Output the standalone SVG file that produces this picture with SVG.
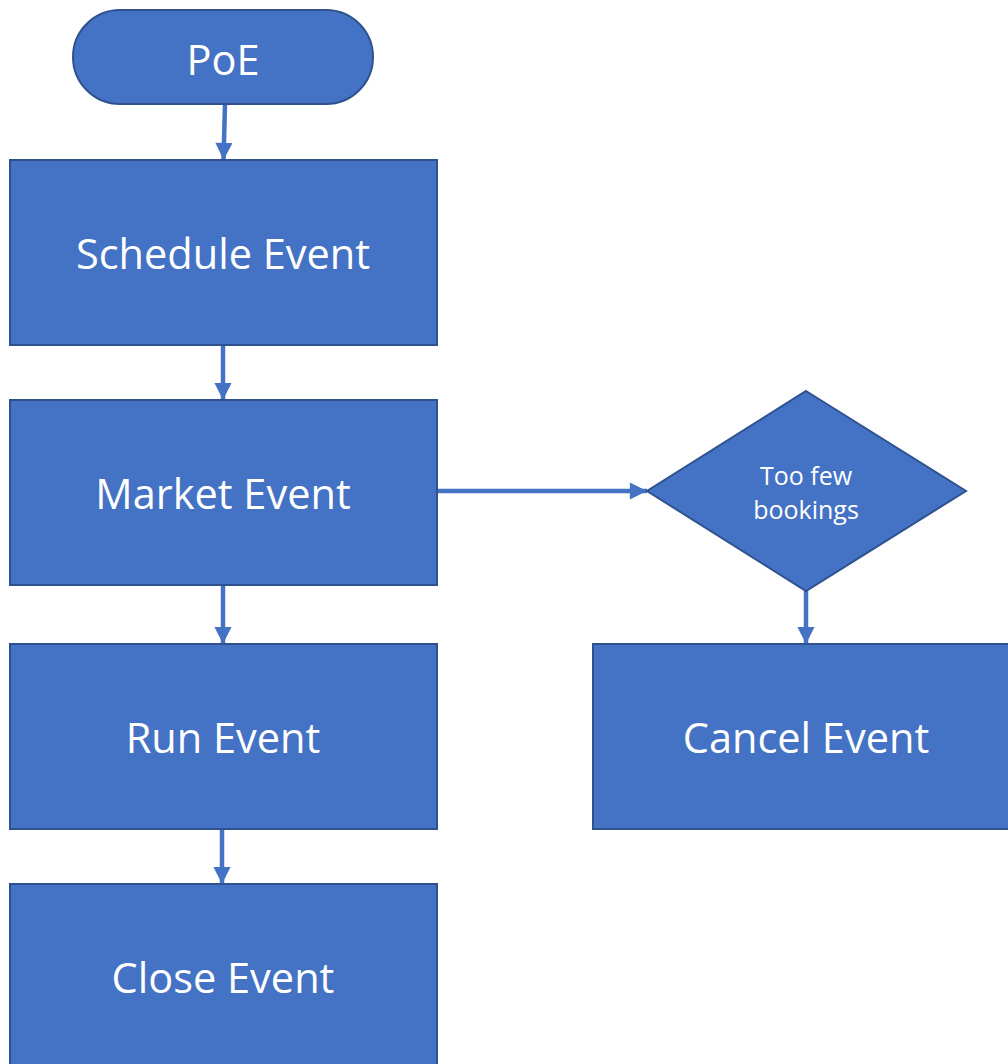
<svg xmlns="http://www.w3.org/2000/svg" width="1008" height="1064" viewBox="0 0 1008 1064">
<style>
.n{fill:#4472C4;stroke:#2F528F;stroke-width:2}
.t{fill:#fff;font-family:"Open Sans","Liberation Sans",sans-serif;text-anchor:middle}
.big{font-size:41.5px}
.sm{font-size:25px}
.c{stroke:#4472C4;stroke-width:4.5;fill:none}
</style>
<defs>
<marker id="ah" viewBox="0 0 10 10" refX="10" refY="5" markerWidth="4" markerHeight="3.8" orient="auto" markerUnits="strokeWidth">
<path d="M0,0L10,5L0,10z" fill="#4472C4"/>
</marker>
</defs>
<rect width="1008" height="1064" fill="#fff"/>
<g id="connectors">
<line class="c" x1="225" y1="104" x2="223.5" y2="160" marker-end="url(#ah)"/>
<line class="c" x1="223" y1="345" x2="223" y2="400" marker-end="url(#ah)"/>
<line class="c" x1="437" y1="491" x2="647" y2="491" marker-end="url(#ah)"/>
<line class="c" x1="223" y1="585" x2="223" y2="644" marker-end="url(#ah)"/>
<line class="c" x1="222" y1="829" x2="222" y2="884" marker-end="url(#ah)"/>
<line class="c" x1="806" y1="591" x2="806" y2="644" marker-end="url(#ah)"/>
</g>
<g id="poe">
<rect class="n" x="73" y="10" width="300" height="94" rx="47" ry="47"/>
<text class="t big" x="223" y="75">PoE</text>
</g>
<g id="schedule">
<rect class="n" x="10" y="160" width="427" height="185"/>
<text class="t big" x="223" y="269">Schedule Event</text>
</g>
<g id="market">
<rect class="n" x="10" y="400" width="427" height="185"/>
<text class="t big" x="223" y="509">Market Event</text>
</g>
<g id="run">
<rect class="n" x="10" y="644" width="427" height="185"/>
<text class="t big" x="223" y="753">Run Event</text>
</g>
<g id="close">
<rect class="n" x="10" y="884" width="427" height="190"/>
<text class="t big" x="223" y="993">Close Event</text>
</g>
<g id="decision">
<polygon class="n" points="806,391 966,491 806,591 647,491"/>
<text class="t sm" x="806" y="485">Too few</text>
<text class="t sm" x="806" y="519">bookings</text>
</g>
<g id="cancel">
<rect class="n" x="593" y="644" width="425" height="185"/>
<text class="t big" x="806" y="753">Cancel Event</text>
</g>
</svg>
